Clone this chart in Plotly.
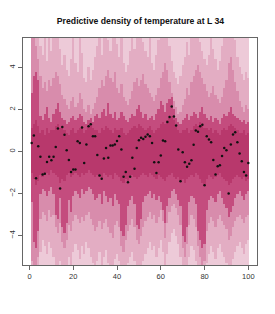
import plotly.graph_objects as go

x = list(range(1, 101))

obs = [0.41, 0.76, -1.27, 0.25, -0.25, -1.10, -1.06, -0.50, -0.25, -0.42,
       -0.25, 0.21, 1.10, -1.76, 1.16, 0.80, 0.06, -0.40, -0.98, -0.86,
       -0.86, 0.49, 0.41, 1.14, -0.55, 0.33, 1.20, 1.30, 0.73, 0.73,
       -0.17, -1.14, -1.30, -0.33, 0.17, -0.30, 0.28, 0.28, 0.33, 0.50,
       0.73, 0.10, -1.20, -0.98, -1.46, -1.20, -0.30, -0.82, 0.17, 0.54,
       0.65, 0.60, 0.70, 0.81, 0.73, 0.41, -0.51, -1.02, -0.51, -0.19,
       0.52, 0.49, 1.40, 1.64, 2.14, 1.66, 1.24, 0.10, -1.41, -0.03,
       -0.51, -0.73, -0.58, -0.42, 0.32, 1.00, 0.94, 1.20, 1.27, -1.60,
       0.73, 0.57, 0.44, -0.40, -1.10, -0.70, -0.65, -0.22, 0.17, 0.06,
       -2.00, 0.33, 0.81, 0.92, 0.44, -0.10, -0.46, -0.98, -1.14, -0.55]

outer_hi = [7.0] * 100
outer_lo = [-7.0] * 100

a_hi = [7.0, 7.0, 6.5, 6.0, 5.0, 4.6, 5.8, 4.3, 5.6, 4.8,
        5.9, 6.2, 5.5, 4.9, 4.1, 4.6, 3.9, 3.6, 4.4, 5.7,
        4.2, 3.8, 5.6, 4.7, 3.5, 3.3, 4.0, 3.4, 3.9, 4.5,
        5.0, 5.8, 4.6, 5.5, 6.0, 5.3, 4.8, 5.7, 6.2, 5.1,
        4.5, 5.6, 4.2, 3.8, 4.1, 4.8, 5.5, 4.9, 5.9, 5.4,
        6.0, 5.2, 4.8, 4.5, 5.6, 4.2, 3.9, 4.6, 5.3, 5.8,
        6.3, 6.5, 5.6, 5.0, 4.3, 3.8, 3.5, 3.2, 3.6, 4.1,
        4.5, 5.2, 4.6, 5.5, 6.0, 5.7, 6.3, 5.2, 4.8, 4.4,
        4.1, 4.6, 5.4, 4.9, 4.4, 3.9, 4.3, 5.0, 5.6, 6.0,
        6.4, 6.6, 6.0, 5.3, 4.5, 4.0, 3.7, 3.4, 3.8, 3.5]

b_hi = [6.0, 5.8, 5.0, 4.4, 3.6, 3.0, 3.3, 2.9, 3.4, 3.1,
        3.5, 3.8, 3.6, 3.2, 2.7, 2.5, 2.2, 2.0, 2.4, 2.6,
        2.1, 2.3, 2.8, 2.5, 2.0, 1.9, 2.2, 1.8, 2.0, 2.3,
        2.6, 3.0, 3.4, 3.1, 3.6, 3.9, 3.5, 3.3, 3.8, 3.0,
        2.8, 3.2, 2.6, 2.4, 2.2, 2.5, 2.9, 3.3, 3.5, 3.1,
        3.4, 3.7, 3.2, 3.0, 2.8, 2.6, 2.4, 2.7, 3.0, 3.5,
        3.8, 4.2, 3.9, 3.3, 2.8, 2.4, 2.1, 1.8, 1.9, 2.2,
        2.5, 3.0, 2.7, 3.3, 3.6, 3.9, 4.1, 3.8, 3.5, 3.2,
        2.9, 2.6, 2.8, 3.1, 2.7, 2.5, 2.3, 2.6, 3.0, 3.4,
        4.2, 4.5, 3.9, 3.3, 2.9, 2.4, 2.1, 1.9, 2.2, 2.0]

c_hi = [2.8, 3.6, 3.8, 3.4, 1.7, 1.5, 1.8, 2.1, 1.6, 1.4,
        1.8, 2.0, 2.3, 1.9, 1.6, 1.5, 1.3, 1.4, 1.6, 1.7,
        1.5, 1.6, 1.8, 1.7, 1.4, 1.3, 1.5, 1.6, 1.4, 1.7,
        1.8, 1.6, 1.9, 2.0, 1.7, 2.3, 1.8, 1.6, 1.9, 1.5,
        1.6, 1.9, 1.7, 1.5, 1.4, 1.6, 1.8, 1.7, 2.0, 2.2,
        1.9, 1.6, 1.8, 1.5, 1.6, 1.7, 1.5, 1.8, 2.0, 2.4,
        2.2, 1.9, 2.3, 2.5, 2.6, 2.0, 1.6, 1.4, 1.3, 1.5,
        1.6, 1.8, 1.5, 1.7, 1.9, 1.8, 1.6, 1.9, 2.1, 1.8,
        1.6, 1.5, 1.7, 1.4, 1.6, 1.5, 1.3, 1.6, 1.8, 1.7,
        1.9, 2.1, 1.8, 1.7, 1.6, 1.5, 1.4, 1.5, 1.3, 1.4]

d_hi = [1.1, 1.3, 1.5, 1.2, 0.9, 1.0, 0.8, 1.1, 0.9, 1.0,
        1.0, 1.2, 1.3, 1.1, 1.2, 1.0, 0.9, 0.8, 1.0, 1.1,
        0.9, 1.0, 1.1, 1.2, 0.9, 1.0, 1.2, 1.3, 1.1, 1.0,
        1.0, 0.9, 1.1, 1.0, 1.2, 1.1, 1.0, 0.9, 1.1, 1.0,
        1.0, 1.1, 0.9, 0.8, 0.9, 1.0, 1.1, 1.2, 1.1, 1.3,
        1.2, 1.1, 1.0, 1.1, 1.2, 1.0, 0.9, 1.0, 1.1, 1.3,
        1.4, 1.3, 1.5, 1.6, 1.7, 1.5, 1.2, 1.0, 0.9, 1.0,
        1.0, 1.1, 0.9, 1.0, 1.2, 1.3, 1.2, 1.4, 1.3, 1.1,
        1.1, 1.0, 1.1, 0.9, 1.0, 0.9, 0.8, 1.0, 1.1, 1.0,
        1.2, 1.3, 1.2, 1.1, 1.0, 0.9, 0.9, 1.0, 0.8, 0.9]

d_lo = [-1.0, -1.3, -1.6, -1.4, -1.1, -1.2, -1.1, -1.0, -1.1, -0.9,
        -1.0, -1.1, -1.2, -1.5, -1.3, -1.4, -1.1, -1.0, -1.2, -1.1,
        -1.0, -1.1, -1.2, -1.0, -1.1, -1.0, -0.9, -1.0, -1.1, -1.2,
        -1.1, -1.2, -1.3, -1.0, -1.1, -1.2, -1.1, -1.3, -1.0, -1.1,
        -1.2, -1.4, -1.5, -1.3, -1.4, -1.2, -1.1, -1.2, -1.3, -1.2,
        -1.1, -1.0, -1.1, -1.2, -1.0, -1.1, -1.2, -1.3, -1.1, -1.2,
        -1.3, -1.4, -1.2, -1.1, -1.0, -1.2, -1.3, -1.2, -1.4, -1.3,
        -1.5, -1.3, -1.2, -1.1, -1.2, -1.0, -1.1, -1.3, -1.5, -1.6,
        -1.3, -1.1, -1.2, -1.3, -1.2, -1.1, -1.0, -1.2, -1.3, -1.4,
        -1.6, -1.5, -1.3, -1.2, -1.1, -1.2, -1.3, -1.2, -1.4, -1.3]

c_lo = [-2.4, -4.3, -4.6, -3.8, -2.0, -1.8, -1.9, -2.1, -1.9, -1.7,
        -2.0, -3.0, -3.2, -2.2, -3.6, -3.9, -3.4, -2.3, -2.9, -2.1,
        -1.9, -2.0, -2.2, -1.8, -2.0, -1.9, -1.7, -1.8, -2.0, -2.3,
        -2.2, -2.0, -2.5, -1.9, -2.1, -2.4, -2.2, -2.6, -2.0, -2.3,
        -2.5, -3.8, -4.0, -3.5, -2.6, -2.3, -2.1, -2.5, -3.5, -3.7,
        -3.2, -2.4, -2.1, -2.0, -1.9, -2.2, -2.0, -2.3, -2.1, -2.4,
        -2.8, -3.4, -2.6, -2.2, -1.9, -1.8, -2.0, -2.3, -2.6, -4.0,
        -4.3, -3.6, -2.4, -2.1, -2.2, -2.5, -3.8, -4.2, -4.6, -4.4,
        -2.8, -2.3, -2.1, -2.2, -2.4, -2.0, -1.9, -2.2, -2.5, -2.7,
        -3.1, -2.9, -2.6, -2.2, -2.0, -1.9, -2.1, -2.3, -2.0, -1.9]

b_lo = [-5.2, -5.8, -6.0, -5.0, -3.2, -2.9, -3.0, -3.3, -2.8, -3.1,
        -3.0, -3.6, -3.9, -3.4, -4.3, -4.6, -4.2, -3.5, -3.8, -3.3,
        -3.0, -3.2, -3.4, -3.1, -3.3, -3.0, -2.9, -3.2, -3.5, -3.8,
        -3.6, -3.3, -3.7, -3.4, -3.2, -3.6, -3.9, -4.1, -3.5, -3.3,
        -3.6, -4.5, -4.8, -4.2, -3.8, -3.5, -3.2, -3.6, -4.2, -4.4,
        -4.0, -3.6, -3.3, -3.1, -2.9, -3.2, -3.0, -3.4, -3.1, -2.8,
        -3.3, -4.1, -3.4, -2.9, -2.6, -2.5, -2.7, -3.0, -3.5, -4.6,
        -5.0, -4.4, -3.5, -3.0, -3.2, -3.6, -4.5, -5.0, -5.4, -5.2,
        -3.8, -3.4, -3.1, -3.3, -3.6, -3.2, -3.0, -3.3, -3.5, -3.7,
        -4.2, -4.0, -3.6, -3.3, -3.1, -3.0, -3.2, -3.4, -3.1, -3.0]

a_lo = [-7.0, -7.0, -7.0, -6.5, -4.8, -4.2, -4.5, -4.9, -4.3, -4.6,
        -5.0, -5.4, -5.8, -5.2, -6.0, -6.3, -5.9, -5.0, -5.5, -4.8,
        -4.4, -4.7, -5.1, -4.5, -4.9, -4.3, -4.6, -5.0, -5.3, -5.6,
        -5.2, -4.8, -5.4, -5.0, -4.7, -5.3, -5.7, -6.0, -5.1, -4.9,
        -5.2, -6.1, -6.4, -5.8, -5.3, -5.0, -4.8, -5.2, -5.9, -6.2,
        -5.7, -5.2, -4.9, -4.6, -4.3, -4.7, -4.5, -5.0, -4.6, -4.2,
        -4.8, -5.6, -4.9, -4.3, -3.9, -3.7, -4.0, -4.4, -5.0, -6.0,
        -6.3, -5.9, -5.0, -4.5, -4.7, -5.2, -6.0, -6.5, -6.8, -6.6,
        -5.3, -4.9, -4.5, -4.8, -5.1, -4.6, -4.4, -4.8, -5.0, -5.3,
        -5.8, -5.5, -5.1, -4.8, -4.5, -4.3, -4.6, -4.9, -4.4, -4.2]

band_colors = ["#EDCAD8", "#E3ADC3", "#D88CAC", "#C44C7E", "#B8386C"]
bands = [(outer_lo, outer_hi), (a_lo, a_hi), (b_lo, b_hi), (c_lo, c_hi), (d_lo, d_hi)]

fig = go.Figure()
for (lo, hi), col in zip(bands, band_colors):
    fig.add_trace(go.Bar(
        x=x, base=lo, y=[h - l for h, l in zip(hi, lo)],
        width=1.02, marker=dict(color=col, line=dict(width=0)),
        showlegend=False, hoverinfo="skip"))

fig.add_trace(go.Scatter(
    x=x, y=obs, mode="markers",
    marker=dict(color="#111111", size=2.5),
    showlegend=False, hoverinfo="skip"))

axis_common = dict(
    showgrid=False, zeroline=False, showline=True, mirror=True, automargin=False,
    linecolor="#666666", linewidth=1, ticks="outside", ticklen=4,
    tickcolor="#666666", tickfont=dict(family="Liberation Sans", size=7.5, color="#333333"),
)

# The page body has an 8px default margin, so the figure is sized to leave room for it.
fig.update_layout(
    width=267, height=306, autosize=False,
    margin=dict(l=15, r=18, t=30, b=49, pad=0),
    paper_bgcolor="white", plot_bgcolor="white",
    barmode="overlay", bargap=0,
    title=dict(text="<b>Predictive density of temperature at L 34</b>",
               x=132.5 / 267, xanchor="center", y=1 - 12.5 / 306, yanchor="middle",
               xref="container", yref="container",
               font=dict(family="Liberation Sans", size=8.7, color="#111111")),
    xaxis=dict(range=[-2.96, 103.96], tickvals=[0, 20, 40, 60, 80, 100], **axis_common),
    yaxis=dict(range=[-5.4, 5.4], tickvals=[-4, -2, 0, 2, 4], tickangle=-90, **axis_common),
)

fig.write_html("out.html")
